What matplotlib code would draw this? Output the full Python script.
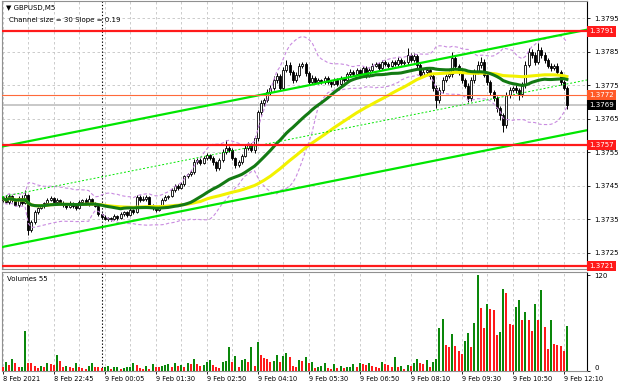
import numpy as np
import pandas as pd
import matplotlib
matplotlib.use("Agg")
import matplotlib.pyplot as plt

# GBPUSD M5, closes in pips above 1.3700
close_pips = [41.3, 40.1, 41.9, 40.7, 39.2, 41.3, 39.8, 42.2, 31.7, 34.1,
              37.1, 38.3, 38.9, 39.8, 40.7, 41.3, 40.1, 40.7, 39.8, 39.2,
              38.6, 39.8, 38.9, 38.3, 40.1, 40.7, 39.5, 41.0, 39.8, 38.9,
              36.5, 35.6, 35.0, 35.3, 35.0, 35.9, 35.3, 36.5, 37.1, 36.2,
              37.7, 37.1, 41.6, 40.7, 41.0, 41.6, 39.2, 38.3, 37.7, 38.9,
              40.7, 41.6, 41.9, 43.7, 44.9, 44.3, 45.4, 47.8, 48.4, 49.0,
              52.0, 52.6, 51.7, 53.2, 54.1, 53.2, 52.0, 50.2, 52.6, 55.0,
              56.2, 55.6, 53.2, 51.1, 52.0, 53.8, 56.2, 57.1, 55.6, 59.2,
              66.9, 69.6, 70.5, 72.9, 74.1, 76.5, 77.7, 74.1, 79.5, 81.0,
              78.9, 76.5, 78.0, 80.7, 81.3, 78.6, 75.9, 77.1, 75.9, 76.5,
              75.9, 77.1, 75.9, 75.3, 76.5, 75.3, 77.1, 76.5, 78.3, 78.9,
              78.3, 79.5, 78.3, 80.1, 78.0, 79.5, 80.7, 81.3, 80.1, 81.9,
              81.3, 80.7, 81.9, 81.3, 82.5, 81.6, 81.9, 84.0, 82.5, 83.7,
              81.0, 78.0, 78.9, 79.5, 77.7, 74.1, 70.5, 73.5, 76.5, 77.7,
              78.3, 83.1, 80.7, 78.9, 76.5, 74.7, 71.1, 76.5, 78.9, 81.0,
              81.9, 78.0, 75.9, 72.9, 71.1, 68.1, 66.0, 63.1, 72.0, 73.5,
              74.1, 73.5, 72.3, 75.0, 81.0, 84.9, 84.0, 81.9, 85.5, 84.0,
              82.5, 80.7, 80.1, 80.7, 78.9, 75.9, 74.1, 69.0]
first_open = 40.7

# wick lengths beyond the body, pips
up_wick = [0.5, 0.8, 0.6, 0.4, 0.7, 0.5, 0.9, 1.5, 0.3, 0.6,
           0.5, 0.4, 0.6, 0.3, 0.7, 0.5, 0.4, 0.6, 0.3, 0.5,
           0.4, 0.6, 0.3, 0.5, 0.7, 0.4, 0.5, 1.2, 0.4, 0.3,
           0.4, 0.3, 0.5, 0.4, 0.3, 0.6, 0.4, 0.5, 0.3, 0.4,
           0.6, 0.4, 0.6, 0.5, 0.8, 0.7, 0.4, 0.3, 0.5, 0.4,
           0.6, 0.5, 0.4, 0.7, 0.5, 0.6, 0.8, 0.5, 0.4, 0.7,
           0.8, 0.6, 0.5, 0.7, 0.6, 0.4, 0.5, 0.3, 0.6, 0.8,
           2.4, 0.7, 0.5, 0.4, 0.6, 0.5, 0.8, 0.9, 0.5, 0.7,
           0.6, 0.9, 0.7, 1.0, 0.8, 1.1, 0.9, 0.6, 1.0, 1.5,
           0.8, 0.7, 0.9, 1.0, 0.6, 0.5, 0.7, 0.8, 0.5, 0.6,
           0.4, 0.7, 0.5, 0.4, 0.6, 0.5, 0.7, 0.4, 0.6, 0.8,
           0.5, 0.7, 0.4, 0.6, 0.5, 0.7, 0.8, 0.6, 0.5, 0.7,
           0.6, 0.5, 0.7, 0.5, 0.8, 0.6, 0.5, 2.0, 0.7, 0.9,
           0.6, 0.5, 0.8, 0.7, 0.6, 0.5, 0.9, 1.0, 0.8, 0.7,
           0.9, 1.8, 0.8, 0.6, 0.7, 0.5, 0.8, 1.0, 0.9, 1.1,
           1.5, 0.8, 0.7, 0.6, 0.5, 0.7, 0.6, 0.8, 1.0, 0.9,
           0.7, 0.8, 0.6, 1.0, 1.2, 1.1, 0.9, 0.8, 2.0, 0.9,
           0.8, 0.7, 0.9, 0.6, 0.8, 0.7, 0.6, 0.5]
down_wick = [0.6, 0.4, 0.7, 0.5, 0.3, 0.6, 0.5, 0.4, 1.5, 0.7,
             0.6, 0.5, 0.4, 0.7, 0.5, 0.3, 0.6, 0.4, 0.5, 0.7,
             0.5, 0.4, 0.6, 0.5, 0.3, 0.6, 0.4, 0.5, 0.7, 0.4,
             0.5, 0.6, 0.4, 0.7, 0.5, 0.3, 0.6, 0.4, 0.5, 0.6,
             0.4, 0.5, 0.3, 0.6, 0.4, 0.5, 0.7, 0.5, 0.6, 0.4,
             0.5, 0.4, 0.6, 0.3, 0.5, 0.7, 0.4, 0.6, 0.5, 0.4,
             0.6, 0.5, 0.7, 0.4, 0.5, 0.6, 0.8, 0.7, 0.5, 0.6,
             0.5, 0.7, 0.6, 0.8, 0.5, 0.6, 0.4, 0.7, 0.6, 0.8,
             0.9, 0.7, 0.8, 0.6, 0.9, 0.7, 1.0, 0.8, 0.6, 0.7,
             0.9, 0.8, 0.6, 0.7, 0.5, 0.8, 0.6, 0.7, 0.5, 0.6,
             0.7, 0.5, 0.6, 0.8, 0.4, 0.6, 0.5, 0.7, 0.4, 0.6,
             0.6, 0.4, 0.7, 0.5, 0.8, 0.6, 0.5, 0.4, 0.7, 0.5,
             0.5, 0.7, 0.4, 0.6, 0.5, 0.7, 0.6, 0.8, 0.5, 0.7,
             0.8, 0.6, 0.7, 0.9, 0.8, 1.0, 2.4, 0.9, 0.8, 0.7,
             0.6, 0.8, 0.7, 0.9, 0.8, 0.7, 1.2, 0.9, 0.8, 0.7,
             0.8, 0.7, 0.9, 1.0, 0.8, 1.1, 1.4, 2.1, 0.9, 0.8,
             0.7, 0.9, 1.8, 0.8, 0.9, 0.7, 0.8, 1.0, 0.7, 0.8,
             0.9, 0.7, 0.8, 0.6, 0.9, 0.8, 0.7, 1.0]

volumes = [5, 11, 7, 14, 9, 4, 5, 50, 10, 9,
           6, 3, 6, 5, 10, 8, 7, 20, 12, 4,
           6, 4, 3, 10, 4, 3, 2, 6, 9, 5,
           4, 3, 4, 6, 2, 4, 5, 2, 3, 4,
           5, 9, 7, 3, 2, 6, 2, 8, 5, 4,
           6, 7, 8, 5, 9, 6, 7, 4, 10, 8,
           15, 8, 6, 7, 11, 13, 7, 4, 3, 11,
           12, 29, 11, 18, 4, 13, 15, 11, 29, 6,
           36, 20, 16, 15, 11, 12, 20, 11, 18, 22,
           17, 6, 5, 13, 12, 17, 9, 11, 3, 4,
           6, 10, 3, 2, 8, 3, 6, 3, 4, 5,
           8, 4, 10, 8, 7, 9, 6, 5, 3, 11,
           8, 7, 4, 17, 4, 6, 2, 7, 6, 9,
           14, 9, 8, 13, 4, 11, 15, 54, 65, 32,
           29, 46, 31, 25, 21, 37, 47, 29, 60, 120,
           78, 53, 83, 77, 76, 44, 49, 103, 97, 58,
           57, 80, 89, 64, 73, 63, 50, 83, 64, 101,
           55, 27, 63, 33, 32, 31, 24, 56]

time_labels = ["8 Feb 2021", "8 Feb 22:45", "9 Feb 00:05", "9 Feb 01:30",
               "9 Feb 02:50", "9 Feb 04:10", "9 Feb 05:30", "9 Feb 06:50",
               "9 Feb 08:10", "9 Feb 09:30", "9 Feb 10:50", "9 Feb 12:10"]
label_step = 16
day_break = 31          # first bar of 9 Feb

price_ticks = [1.3725, 1.3735, 1.3745, 1.3755, 1.3765, 1.3775, 1.3785, 1.3795]

channel_size = 30       # pips
channel_slope = 0.19    # pips per bar
channel_mid0 = 41.7     # channel middle at first bar, pips

red_levels = [1.3791, 1.3757, 1.3721]
orange_level = 1.3772
last_price = 1.3769

ma_fast, ma_slow, bb_period = 30, 55, 20

# ---- build OHLC
close = 1.37 + np.array(close_pips) / 10000
opens = 1.37 + np.array([first_open] + close_pips[:-1]) / 10000
high = np.maximum(opens, close) + np.array(up_wick) / 10000
low = np.minimum(opens, close) - np.array(down_wick) / 10000
n = len(close)
x = np.arange(n)

cs = pd.Series(close)
sma_fast = cs.rolling(ma_fast, min_periods=1).mean()
sma_slow = cs.rolling(ma_slow, min_periods=1).mean()
bb_mid = cs.rolling(bb_period, min_periods=1).mean()
bb_std = cs.rolling(bb_period, min_periods=1).std(ddof=0)
bb_up = bb_mid + 2 * bb_std
bb_lo = bb_mid - 2 * bb_std

plt.rcParams['font.family'] = 'DejaVu Sans'
W, H = 620, 388
fig = plt.figure(figsize=(W / 100, H / 100), dpi=100)


def px_axes(x0, y0, x1, y1):
    return fig.add_axes([x0 / W, 1 - y1 / H, (x1 - x0) / W, (y1 - y0) / H])


ax = px_axes(2, 1, 587, 269)
axv = px_axes(2, 272, 587, 370.5)
xlim = (-0.22, 183.3)

grid_kw = dict(color='#c4c4c4', lw=0.6, ls=(0, (3, 3)), zorder=0)
for a in (ax, axv):
    a.set_xlim(*xlim)
    for gx in range(0, 184, 8):
        a.axvline(gx, **grid_kw)
    a.axvline(day_break, color='black', lw=0.8, ls=(0, (1.2, 1.8)), zorder=1)
    for s in ('left', 'top', 'bottom'):
        a.spines[s].set_color('#909090')
    a.spines['right'].set_color('black')
    a.yaxis.tick_right()
    a.tick_params(axis='y', length=2.5, width=0.6, labelsize=5, pad=3)
    a.tick_params(axis='x', length=2, width=0.6)

# ---- price panel
ax.set_ylim(1.37201, 1.38001)
for p in price_ticks:
    ax.axhline(p, **grid_kw)
ax.set_yticks(price_ticks)
ax.set_yticklabels(["%.4f" % p for p in price_ticks])
ax.set_xticks([])

# candles
bull = close >= opens
ax.vlines(x, low, high, color='black', lw=0.7, zorder=2)
ax.bar(x, np.abs(close - opens), bottom=np.minimum(opens, close), width=0.62,
       color=np.where(bull, 'white', 'black'), edgecolor='black', linewidth=0.6, zorder=3)

# indicators
ax.plot(x, bb_up, color='#c98be0', lw=0.8, ls=(0, (3, 2)), zorder=4)
ax.plot(x, bb_lo, color='#c98be0', lw=0.8, ls=(0, (3, 2)), zorder=4)
ax.plot(x, sma_slow, color='#f2f200', lw=2.2, zorder=5)
ax.plot(x, sma_fast, color='#137a13', lw=2.2, zorder=6)

# regression channel
cx = np.array([xlim[0], xlim[1]])
mid = channel_mid0 + channel_slope * cx
ax.plot(cx, 1.37 + (mid + channel_size / 2) / 10000, color='#00e600', lw=1.6, zorder=7)
ax.plot(cx, 1.37 + (mid - channel_size / 2) / 10000, color='#00e600', lw=1.6, zorder=7)
ax.plot(cx, 1.37 + mid / 10000, color='#00e600', lw=0.7, ls=(0, (2, 2)), zorder=7)

# horizontal levels
ax.axhline(last_price, color='#c8c8c8', lw=1.4, zorder=1)
ax.axhline(orange_level, color='#ff6a3a', lw=0.8, zorder=8)
for lv in red_levels:
    ax.axhline(lv, color='#ff1a1a', lw=1.6, zorder=8)


def tag(a, y, txt, fc):
    a.text(1.004, y, txt, transform=a.get_yaxis_transform(), ha='left', va='center',
           fontsize=5, color='white', zorder=20, clip_on=False,
           bbox=dict(boxstyle='square,pad=0.3', fc=fc, ec='none'))


for lv in red_levels:
    tag(ax, lv, "%.4f" % lv, '#ff1a1a')
tag(ax, orange_level, "%.4f" % orange_level, '#ff5a28')
tag(ax, last_price, "%.4f" % last_price, 'black')

ax.text(0.006, 0.975, u"\u25bc GBPUSD,M5", transform=ax.transAxes, fontsize=5,
        va='center', ha='left')
ax.text(0.012, 0.93, "Channel size = %d Slope = %.2f" % (channel_size, channel_slope),
        transform=ax.transAxes, fontsize=5, va='center', ha='left')

# ---- volume panel
vol = np.array(volumes)
prev = np.r_[np.inf, vol[:-1]]
vcol = np.where(vol > prev, '#0a870a', '#ff1a1a')
axv.bar(x, vol, width=0.62, color=vcol, zorder=3)
axv.set_ylim(0, 123.8)
axv.set_yticks([0, 120])
axv.set_yticklabels(["0", "120"])
axv.get_yticklabels()[0].set_va('bottom')
axv.text(0.008, 0.93, "Volumes 55", transform=axv.transAxes, fontsize=5,
         va='center', ha='left')
axv.set_xticks(range(0, n, label_step))
axv.set_xticklabels(time_labels, fontsize=4.8, ha='left')
axv.tick_params(axis='x', pad=2)

fig.savefig("out.png", dpi=100)
